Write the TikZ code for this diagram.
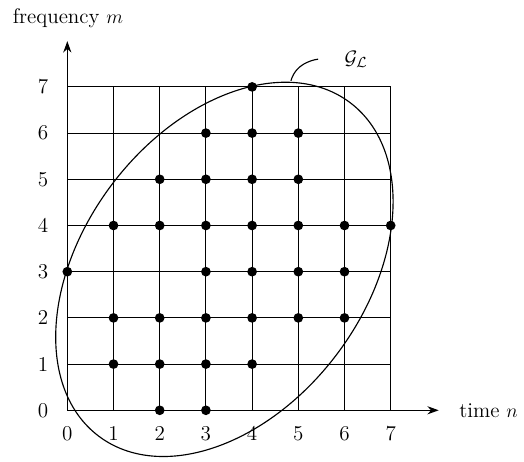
\documentclass[tikz,border=0pt]{standalone}
\usetikzlibrary{arrows.meta}
\begin{document}
\begin{tikzpicture}[x=1cm,y=1cm, font=\fontsize{13}{15}\selectfont,
  gridline/.style={line width=0.6pt},
  axis/.style={line width=0.9pt, -{Stealth[length=7pt,width=5pt]}},
  dot/.style={circle, fill, inner sep=0pt, minimum size=0.21cm},
  curve/.style={line width=0.7pt}]
\useasboundingbox (-1.457,-1.119) rectangle (9.885,8.881);
\draw[gridline] (0,0) grid (7,7);
\coordinate (O) at (0,0);
\coordinate (xe) at (8.04,0);
\coordinate (ye) at (0,7.99);
\draw[axis] (O) -- (xe);
\draw[axis] (O) -- (ye);
\node[anchor=west] (tn) at (8.36,0) {time $n$};
\node (fm) at (0.015,8.49) {frequency $m$};
\foreach \i in {0,...,7} {
  \node (xl\i) at (\i,-0.5) {\i};
  \node (yl\i) at (-0.526,\i) {\i};
}
\foreach \n/\m in {4/7, 3/6,4/6,5/6, 2/5,3/5,4/5,5/5,
  1/4,2/4,3/4,4/4,5/4,6/4,7/4,
  0/3,3/3,4/3,5/3,6/3,
  1/2,2/2,3/2,4/2,5/2,6/2,
  1/1,2/1,3/1,4/1, 2/0,3/0}
  \node[dot] (d\n-\m) at (\n,\m) {};
\draw[curve] (3.4,3.05) ellipse [x radius=4.52, y radius=3.05, rotate=53];
\coordinate (gl) at (4.84,7.13);
\node (GL) at (6.25,7.6) {$\mathcal{G}_{\mathcal{L}}$};
\draw[curve, shorten >=0.45cm] (gl) to[out=75,in=180] (GL.west);
\end{tikzpicture}
\end{document}
